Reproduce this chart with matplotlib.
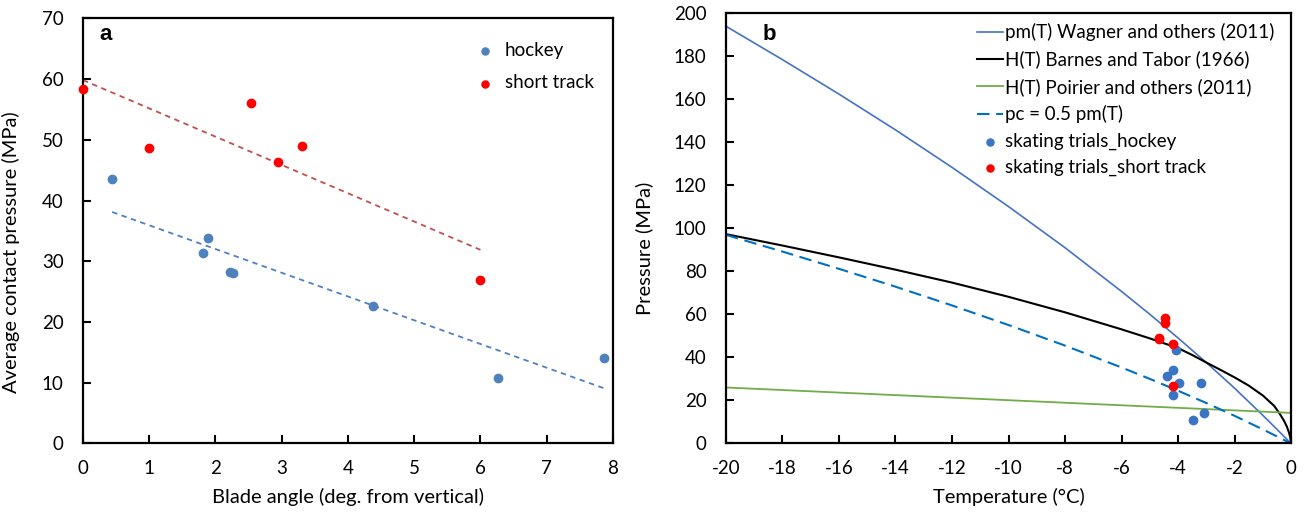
import matplotlib
matplotlib.use('Agg')
import matplotlib.pyplot as plt
import numpy as np

plt.rcParams['font.family'] = ['Lato', 'DejaVu Sans']
plt.rcParams['axes.unicode_minus'] = False

# panel a: contact pressure vs blade angle
hockeyAngle = [0.44, 1.88, 1.81, 2.22, 2.27, 4.38, 6.27, 7.86]
hockeyPressure = [43.6, 33.9, 31.3, 28.2, 28.0, 22.7, 10.8, 14.1]
trackAngle = [0.0, 1.0, 2.54, 2.94, 3.31, 6.0]
trackPressure = [58.4, 48.7, 56.0, 46.4, 49.0, 26.9]

# panel b: pressure vs temperature
hockeyTemp = [-4.06, -4.17, -4.38, -3.96, -3.18, -4.17, -3.48, -3.08]
trackTemp = [-4.47, -4.67, -4.47, -4.17, -4.67, -4.17]

pmTemp = [-20, -18, -16, -14, -12, -10, -8, -6, -5, -4, -3, -2, -1, -0.5, 0]
pmPressure = [193.7, 178.2, 162.2, 145.6, 128.2, 110.0, 90.9, 70.6, 60.0,
              49.0, 37.6, 25.7, 13.1, 6.6, 0.0]

hbTemp = [-20, -18, -16, -14, -12, -10, -8, -6, -5, -4, -3.5, -3, -2.5,
          -2, -1.5, -1, -0.6, -0.4, -0.25, -0.15, -0.07, -0.02, 0]
hbPressure = [97.2, 91.9, 86.4, 80.7, 74.7, 68.1, 60.9, 53.0, 48.8, 44.3,
              41.1, 37.6, 34.2, 30.7, 26.9, 22.3, 17.5, 13.8, 10.6, 7.9,
              5.0, 2.4, 0.0]

hpTemp = [-20, -10, 0]
hpPressure = [26.0, 20.1, 14.2]

blue = '#4F81BD'
red = '#FF0000'


def styleAxes(ax):
    for s in ax.spines.values():
        s.set_linewidth(1.6)
        s.set_color('black')
    ax.tick_params(direction='in', length=5.5, width=1.5, labelsize=13.5,
                   color='black')
    ax.tick_params(axis='x', pad=12)
    ax.tick_params(axis='y', pad=14)


fig = plt.figure(figsize=(13.05, 5.12), dpi=100)
axA = fig.add_axes([0.0636, 0.1338, 0.4061, 0.8305])
axB = fig.add_axes([0.5563, 0.1338, 0.4330, 0.8414])

# trend lines from least-squares fits
ph = np.polyfit(hockeyAngle, hockeyPressure, 1)
pt = np.polyfit(trackAngle, trackPressure, 1)
xh = np.array([min(hockeyAngle), max(hockeyAngle)])
xt = np.array([min(trackAngle), max(trackAngle)])
axA.plot(xt, np.polyval(pt, xt), '--', color='#C0504D', lw=1.3,
         dashes=(3, 2.5))
axA.plot(xh, np.polyval(ph, xh), '--', color=blue, lw=1.3, dashes=(3, 2.5))
axA.scatter(hockeyAngle, hockeyPressure, s=36, color=blue, zorder=3,
            label='hockey', clip_on=False)
axA.scatter(trackAngle, trackPressure, s=36, color=red, zorder=3,
            label='short track', clip_on=False)
axA.set_xlim(0, 8)
axA.set_ylim(0, 70)
axA.set_xticks(range(0, 9))
axA.set_yticks(range(0, 71, 10))
axA.set_xlabel('Blade angle (deg. from vertical)', fontsize=14.5)
axA.set_ylabel('Average contact pressure (MPa)', fontsize=14.5)
axA.yaxis.set_label_coords(-0.119, 0.45)
axA.xaxis.set_label_coords(0.5, -0.105)
styleAxes(axA)
axA.text(0.03, 0.949, 'a', transform=axA.transAxes, fontsize=16,
         fontweight='bold', family=['Liberation Sans', 'DejaVu Sans'],
         va='baseline')
axA.legend(loc='upper left', bbox_to_anchor=(0.692, 0.985), frameon=False,
           fontsize=13.5, handletextpad=0.05, markerscale=0.85,
           labelspacing=0.85)

axB.plot(pmTemp, pmPressure, color='#4472C4', lw=1.2,
         label='pm(T) Wagner and others (2011)')
axB.plot(hbTemp, hbPressure, color='black', lw=1.5,
         label='H(T) Barnes and Tabor (1966)')
axB.plot(hpTemp, hpPressure, color='#70AD47', lw=1.3,
         label='H(T) Poirier and others (2011)')
axB.plot(pmTemp, 0.5 * np.array(pmPressure), color='#0070C0', lw=1.5,
         dashes=(6, 3.2), label='pc = 0.5 pm(T)')
axB.scatter(hockeyTemp, hockeyPressure, s=36, color='#3A75C4', zorder=3,
            label='skating trials_hockey')
axB.scatter(trackTemp, trackPressure, s=36, color=red, zorder=3,
            label='skating trials_short track')
axB.set_xlim(-20, 0)
axB.set_ylim(0, 200)
axB.set_xticks(range(-20, 1, 2))
axB.set_yticks(range(0, 201, 20))
axB.set_xlabel('Temperature (°C)', fontsize=14.5)
axB.set_ylabel('Pressure (MPa)', fontsize=14.5)
axB.yaxis.set_label_coords(-0.129, 0.454)
axB.xaxis.set_label_coords(0.5, -0.104)
styleAxes(axB)
axB.text(0.065, 0.937, 'b', transform=axB.transAxes, fontsize=16,
         fontweight='bold', family=['Liberation Sans', 'DejaVu Sans'],
         va='baseline')
axB.legend(loc='upper right', bbox_to_anchor=(1.0, 1.015), frameon=False,
           fontsize=13.5, handlelength=1.4, handletextpad=0.1,
           markerscale=0.85, labelspacing=0.5)

fig.savefig('out.png', dpi=100)
